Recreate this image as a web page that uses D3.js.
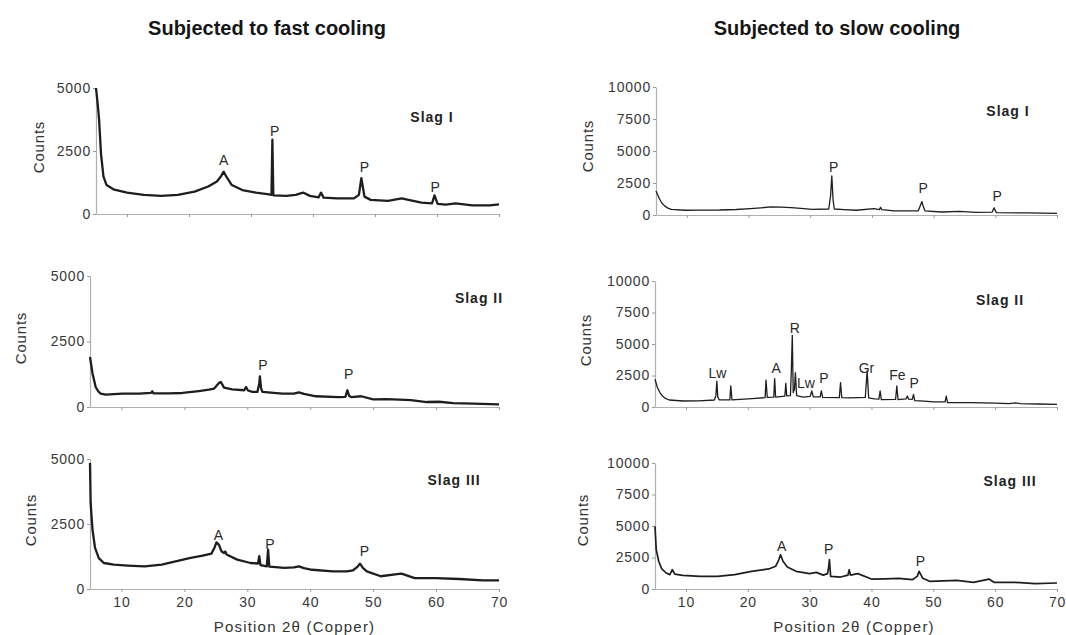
<!DOCTYPE html>
<html>
<head>
<meta charset="utf-8">
<script src="https://cdn.jsdelivr.net/npm/d3@7"></script>
<style>
  body { margin: 0; background: #fff; }
  svg text { font-family: "Liberation Sans", Arial, Helvetica, sans-serif; }
</style>
</head>
<body>
<svg id="chart" width="1066" height="635"></svg>
<script>
// XRD patterns: [2θ (deg), counts]
const fastSlagI = [[5.0,5000],[5.3,4300],[5.5,3740],[5.8,2410],[6.2,1490],[6.7,1150],[7.8,980],[10,850],[12.7,760],[15.5,720],[18.2,760],[20.9,890],[23.1,1090],[24.5,1290],[25.2,1510],[25.6,1680],[26.0,1490],[26.9,1150],[28.6,950],[30.8,850],[32.9,780],[33.3,760],[33.45,2950],[33.6,740],[35.7,720],[37.2,760],[38.4,850],[39.5,720],[40.9,660],[41.3,850],[41.7,650],[43.9,620],[46.6,620],[47.4,760],[47.8,1420],[48.3,690],[49.3,560],[52.1,520],[54.3,620],[55.4,560],[57.5,450],[59.2,420],[59.6,740],[60.1,400],[61.4,370],[63.0,420],[65.7,345],[68.5,345],[70,385]];
const fastSlagII = [[5,1910],[5.4,1280],[5.9,765],[6.3,600],[6.7,510],[7.5,470],[10.1,510],[12.8,510],[14.7,540],[14.9,600],[15.1,520],[17.5,520],[19.7,535],[22.3,610],[23.9,660],[24.7,700],[25.5,920],[25.8,955],[26.3,740],[27.6,675],[29.5,640],[29.8,765],[30.1,630],[30.8,575],[31.6,575],[31.9,900],[32.0,1170],[32.2,700],[32.4,575],[35.6,510],[37.4,510],[38.2,560],[39,500],[40.9,410],[44.5,380],[45.6,390],[45.9,640],[46.2,420],[46.5,380],[48.1,410],[50,290],[52,300],[54.2,280],[56,260],[58.5,190],[60.5,200],[62.7,150],[65.9,130],[70,100]];
const fastSlagIII = [[5,4850],[5.1,3300],[5.4,2280],[5.8,1580],[6.4,1190],[7.2,1000],[8.8,935],[11,900],[13.7,870],[16.4,935],[18.6,1060],[20.8,1190],[22.9,1280],[24.3,1360],[24.8,1600],[25.1,1790],[25.5,1700],[25.9,1450],[26.3,1380],[26.5,1440],[26.7,1330],[28.4,1130],[30.5,1000],[31.7,980],[31.9,1260],[32.1,920],[33.1,870],[33.3,1510],[33.5,860],[35.9,810],[37.4,830],[38.2,870],[39,800],[40.3,740],[43.6,680],[45.8,680],[46.8,720],[47.5,850],[47.9,975],[48.4,800],[49,680],[51.2,490],[53.5,560],[54.5,590],[56.6,420],[59.9,420],[63.7,385],[67.5,335],[70,335]];
const slowSlagI = [[5,1880],[5.3,1550],[5.6,1230],[6.0,900],[6.4,710],[7.0,520],[7.5,445],[9.7,370],[12,380],[15.3,390],[18,430],[20.3,500],[22,560],[23.6,630],[25.3,620],[26.9,575],[28.5,520],[30.3,445],[33.0,470],[33.3,1500],[33.5,3050],[33.7,1200],[33.9,470],[35.5,420],[37.5,370],[40.3,500],[41.2,420],[41.4,600],[41.6,420],[43.6,315],[47.5,315],[47.9,800],[48.1,1050],[48.3,700],[48.6,330],[51.3,235],[54.2,290],[56.9,210],[59.5,230],[59.8,560],[60.1,230],[60.3,185],[65.3,160],[70,130]];
const slowSlagII = [[5,2200],[5.4,1530],[5.8,1150],[6.2,870],[6.7,680],[7.3,555],[9.6,475],[12,490],[14.6,555],[14.85,900],[15.0,2060],[15.15,800],[15.4,560],[17.1,560],[17.25,1670],[17.45,560],[20.7,660],[22.8,740],[22.95,2140],[23.15,760],[24.2,780],[24.35,2250],[24.5,790],[26.0,870],[26.15,1880],[26.3,880],[26.9,900],[27.05,3000],[27.2,5690],[27.35,1140],[27.55,1400],[27.7,2720],[27.9,900],[29.0,790],[30.1,850],[30.35,1270],[30.6,800],[31.7,800],[31.9,1270],[32.1,770],[34.8,740],[35.0,1930],[35.2,740],[36.5,720],[39.0,760],[39.3,2860],[39.55,720],[40.5,650],[41.2,620],[41.4,1270],[41.6,580],[43.9,600],[44.1,1670],[44.3,580],[45.6,650],[45.8,870],[46.0,620],[46.6,600],[46.8,1000],[47.0,500],[48.5,460],[50,400],[51.9,400],[52.1,870],[52.3,350],[56.1,345],[60,300],[62.2,265],[63.3,330],[64,260],[67,240],[70,210]];
const slowSlagIII = [[5,4970],[5.2,3120],[5.6,2200],[6.1,1590],[6.8,1270],[7.4,1140],[7.8,1530],[8.2,1180],[9.5,1080],[12.3,1000],[15.1,1000],[17.9,1140],[20.6,1400],[23.4,1590],[24.5,1800],[25.0,2300],[25.3,2720],[25.7,2200],[26.4,1750],[27.8,1400],[30.0,1220],[31.1,1320],[32.2,1100],[32.9,1220],[33.1,1800],[33.2,2330],[33.4,1000],[35.0,950],[36.2,1100],[36.4,1530],[36.6,1100],[37.8,1220],[40.0,790],[42.2,810],[44.4,850],[46.6,740],[47.4,1000],[47.7,1400],[48.3,850],[49.4,610],[53.8,690],[56.5,530],[59.0,790],[59.8,530],[63.2,530],[66.5,420],[70,475]];

// Phase labels: [label, 2θ, counts]
const fastSlagIPeaks = [["A",25.6,2150],["P",33.8,3280],["P",48.3,1880],["P",59.7,1090]];
const fastSlagIIPeaks = [["P",32.5,1600],["P",46.1,1280]];
const fastSlagIIIPeaks = [["A",25.4,2090],["P",33.6,1740],["P",48.6,1450]];
const slowSlagIPeaks = [["P",33.8,3720],["P",48.3,2150],["P",60.3,1490]];
const slowSlagIIPeaks = [["Lw",15.1,2720],["A",24.6,3120],["R",27.6,6300],["Lw",29.4,1930],["P",32.3,2300],["Gr",39.2,3120],["Fe",44.2,2520],["P",46.9,1930]];
const slowSlagIIIPeaks = [["A",25.5,3390],["P",33.1,3170],["P",47.9,2200]];

const xTicks = [10, 20, 30, 40, 50, 60, 70];
const fastYTicks = [0, 2500, 5000];
const slowYTicks = [0, 2500, 5000, 7500, 10000];
const columnTitles = ["Subjected to fast cooling", "Subjected to slow cooling"];
const xTitle = "Position 2θ (Copper)";

const panels = [
  { data: fastSlagI,   peaks: fastSlagIPeaks,   name: "Slag I",   yMax: 5000,  yTicks: fastYTicks, x0: 96,  x1: 499,  top: 88,  bot: 214, nameX: 432,  nameY: 117, cx: 39,  cy: 147, xLabels: false, lw: 2.3 },
  { data: fastSlagII,  peaks: fastSlagIIPeaks,  name: "Slag II",  yMax: 5000,  yTicks: fastYTicks, x0: 90,  x1: 499,  top: 276, bot: 407, nameX: 479,  nameY: 298, cx: 21,  cy: 338, xLabels: false, lw: 2.3 },
  { data: fastSlagIII, peaks: fastSlagIIIPeaks, name: "Slag III", yMax: 5000,  yTicks: fastYTicks, x0: 90,  x1: 499,  top: 459, bot: 589, nameX: 454,  nameY: 480, cx: 31,  cy: 520, xLabels: true,  lw: 2.3 },
  { data: slowSlagI,   peaks: slowSlagIPeaks,   name: "Slag I",   yMax: 10000, yTicks: slowYTicks, x0: 656, x1: 1057, top: 87,  bot: 215, nameX: 1008, nameY: 111, cx: 588, cy: 146, xLabels: false, lw: 1.3 },
  { data: slowSlagII,  peaks: slowSlagIIPeaks,  name: "Slag II",  yMax: 10000, yTicks: slowYTicks, x0: 655, x1: 1057, top: 281, bot: 407, nameX: 1000, nameY: 300, cx: 586, cy: 340, xLabels: false, lw: 1.3 },
  { data: slowSlagIII, peaks: slowSlagIIIPeaks, name: "Slag III", yMax: 10000, yTicks: slowYTicks, x0: 655, x1: 1057, top: 463, bot: 589, nameX: 1010, nameY: 481, cx: 583, cy: 520, xLabels: true,  lw: 1.7 }
];

const svg = d3.select("#chart");
svg.append("rect").attr("width", 1066).attr("height", 635).attr("fill", "#fff");

// Column titles
svg.selectAll("text.col-title").data(columnTitles).join("text")
  .attr("class", "col-title")
  .attr("x", (d, i) => i === 0 ? 267 : 837)
  .attr("y", 35)
  .attr("text-anchor", "middle")
  .attr("font-size", 20)
  .attr("font-weight", "bold")
  .attr("fill", "#151515")
  .text(d => d);

panels.forEach(p => {
  const x = d3.scaleLinear().domain([5, 70]).range([p.x0, p.x1]);
  const y = d3.scaleLinear().domain([0, p.yMax]).range([p.bot, p.top]);
  const g = svg.append("g");

  // y axis
  const ya = g.append("g").attr("transform", `translate(${p.x0},0)`)
    .call(d3.axisLeft(y).tickValues(p.yTicks).tickSize(3).tickSizeOuter(0).tickPadding(2).tickFormat(d3.format("d")));
  // x axis
  const xa = g.append("g").attr("transform", `translate(0,${p.bot})`)
    .call(d3.axisBottom(x).tickValues(xTicks).tickSize(3).tickSizeOuter(0).tickPadding(5)
      .tickFormat(p.xLabels ? d3.format("d") : () => ""));

  [ya, xa].forEach(a => {
    a.select(".domain").attr("stroke", "#b0b0b0").attr("stroke-width", 1.2);
    a.selectAll(".tick line").attr("stroke", "#9a9a9a");
    a.selectAll(".tick text")
      .attr("font-size", 14)
      .attr("letter-spacing", "0.8px")
      .attr("fill", "#383838")
      .attr("font-family", null);
  });

  // trace
  const line = d3.line().x(d => x(d[0])).y(d => y(d[1])).curve(d3.curveLinear);
  g.append("path")
    .datum(p.data)
    .attr("d", line)
    .attr("fill", "none")
    .attr("stroke", "#1e1e1e")
    .attr("stroke-width", p.lw)
    .attr("stroke-linejoin", "round");

  // phase labels
  g.selectAll("text.peak").data(p.peaks).join("text")
    .attr("class", "peak")
    .attr("x", d => x(d[1]))
    .attr("y", d => y(d[2]))
    .attr("dy", "0.36em")
    .attr("text-anchor", "middle")
    .attr("font-size", 14)
    .attr("fill", "#2a2a2a")
    .text(d => d[0]);

  // sample name
  g.append("text")
    .attr("x", p.nameX).attr("y", p.nameY).attr("dy", "0.36em")
    .attr("text-anchor", "middle")
    .attr("font-size", 14)
    .attr("font-weight", "bold")
    .attr("letter-spacing", "1px")
    .attr("fill", "#222")
    .text(p.name);

  // y axis title
  g.append("text")
    .attr("transform", `translate(${p.cx},${p.cy}) rotate(-90)`)
    .attr("dy", "0.36em")
    .attr("text-anchor", "middle")
    .attr("font-size", 15)
    .attr("letter-spacing", "0.8px")
    .attr("fill", "#333")
    .text("Counts");

  // x axis title on bottom row
  if (p.xLabels) {
    g.append("text")
      .attr("x", (p.x0 + p.x1) / 2 + (p.x0 < 300 ? 0 : -2))
      .attr("y", 632)
      .attr("text-anchor", "middle")
      .attr("font-size", 15)
      .attr("letter-spacing", "1.2px")
      .attr("fill", "#333")
      .text(xTitle);
  }
});
</script>
</body>
</html>
